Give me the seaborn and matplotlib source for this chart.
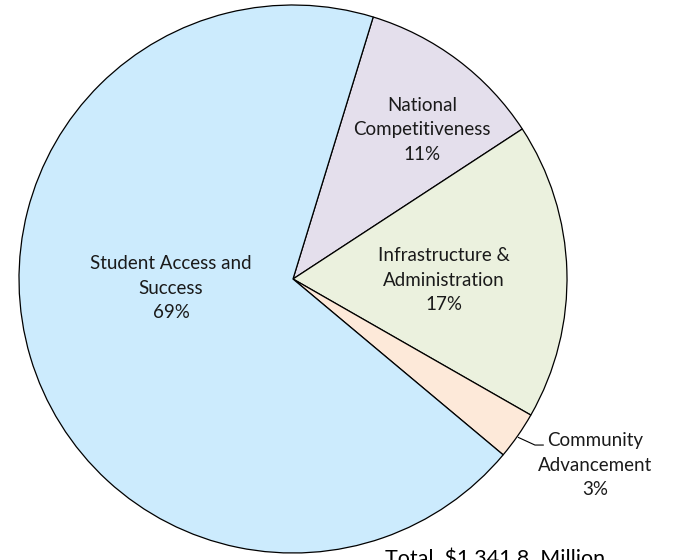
import matplotlib
matplotlib.use("Agg")
import matplotlib.pyplot as plt
import seaborn as sns

# Budget allocation by program area, in millions of dollars
categories = ["National\nCompetitiveness", "Infrastructure &\nAdministration",
              "Community\nAdvancement", "Student Access and\nSuccess"]
amounts = [148.3, 234.7, 37.8, 921.0]
total_label = "Total  $1,341.8  Million"

colors = ["#E4DFEC", "#EBF1DE", "#FDE9D9", "#CCEBFD"]

# label anchor positions (in units of the pie radius)
label_pos = [(0.471, 0.544), (0.551, -0.004), (1.102, -0.679), (-0.445, -0.033)]

sns.set_theme(style="white")
plt.rcParams["font.family"] = ["Lato", "DejaVu Sans"]

fig = plt.figure(figsize=(6.75, 5.6), dpi=100)
ax = fig.add_axes([0, 0, 1, 1])

total = sum(amounts)
wedges, _ = ax.pie(amounts, colors=colors, startangle=72.98, counterclock=False,
                   radius=1.0, wedgeprops=dict(edgecolor="black", linewidth=0.9))

for name, amt, (x, y) in zip(categories, amounts, label_pos):
    ax.text(x, y, f"{name}\n{round(100 * amt / total):d}%", ha="center", va="center",
            fontsize=13.5, color="#1a1a1a", linespacing=1.52)

# leader line for the small slice
ax.plot([0.822, 0.883, 0.914], [-0.578, -0.606, -0.606], color="black", lw=0.8)

ax.text(0.739, -1.022, total_label, ha="center", va="center", fontsize=15.5, color="black")

ax.set_xlim(-293 / 274, (675 - 293) / 274)
ax.set_ylim(-281 / 274, 279 / 274)
ax.set_aspect("auto")
ax.axis("off")

fig.savefig("out.png", dpi=100, facecolor="white")
